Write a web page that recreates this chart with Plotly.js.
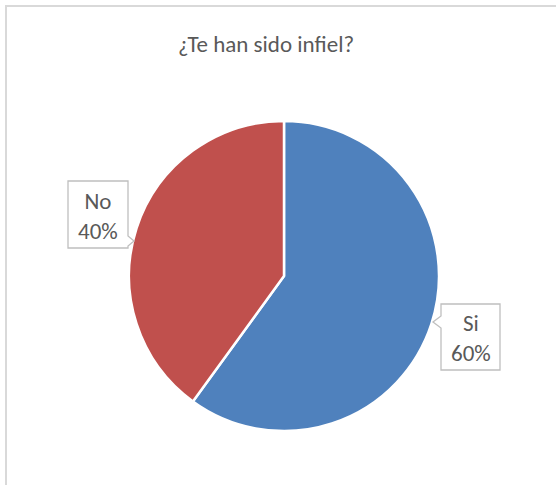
<!DOCTYPE html>
<html><head><meta charset="utf-8">
<script src="https://cdn.plot.ly/plotly-3.0.1.min.js"></script>
<style>html,body{margin:0;padding:0;background:#fff}#c{width:556px;height:485px}</style>
</head><body><div id="c"></div>
<script>
const labels = ["Si", "No"];
const values = [60, 40];
const colors = ["#4F81BD", "#C0504D"];
const titleText = "¿Te han sido infiel?";

const W = 556, H = 485;
const px = x => x / W, py = y => 1 - y / H;
const FONT = "Carlito, Calibri, 'Open Sans', sans-serif";
const total = values.reduce((a, b) => a + b, 0);
const pct = v => Math.round(v / total * 100) + "%";

// callout geometry (layout only)
const callouts = [
  {box: [441, 304, 500, 370], side: "left", tipY: 322, tipX: 433, half: 6, cx: 470.5, cy: 338},
  {box: [68, 181, 128, 248], side: "right", tipY: 241, tipX: 134, half: 5, cx: 98, cy: 216}
];

function path(c) {
  const [x0, y0, x1, y1] = c.box;
  let p;
  if (c.side === "left") {
    p = [[x0, y0], [x1, y0], [x1, y1], [x0, y1], [x0, c.tipY + c.half], [c.tipX, c.tipY], [x0, c.tipY - c.half]];
  } else {
    p = [[x0, y0], [x1, y0], [x1, c.tipY - c.half], [c.tipX, c.tipY], [x1, c.tipY + c.half], [x1, y1], [x0, y1]];
  }
  return "M" + p.map(q => px(q[0]).toFixed(5) + "," + py(q[1]).toFixed(5)).join(" L") + " Z";
}

const shapes = [
  {type: "rect", xref: "paper", yref: "paper", x0: px(6), x1: 1.05, y0: -0.05, y1: py(6),
   line: {color: "#D9D9D9", width: 2}, fillcolor: "rgba(0,0,0,0)", layer: "below"}
];
const annotations = [];
callouts.forEach((c, i) => {
  shapes.push({type: "path", xref: "paper", yref: "paper", path: path(c),
    line: {color: "#BFBFBF", width: 1.3}, fillcolor: "#FFFFFF", layer: "above"});
  annotations.push({xref: "paper", yref: "paper", x: px(c.cx), y: py(c.cy),
    xanchor: "center", yanchor: "middle", showarrow: false,
    text: labels[i] + "<br>" + pct(values[i]),
    font: {family: FONT, size: 23, color: "#595959"}});
});

const cx = 284, cy = 276, r = 155;
const data = [{
  type: "pie", labels: labels, values: values, sort: false, direction: "clockwise", rotation: 0,
  marker: {colors: colors, line: {color: "#FFFFFF", width: 2.5}},
  textinfo: "none", hoverinfo: "none", showlegend: false,
  domain: {x: [px(cx - r), px(cx + r)], y: [py(cy + r), py(cy - r)]}
}];

const layout = {
  width: W, height: H, margin: {l: 0, r: 0, t: 0, b: 0},
  paper_bgcolor: "#FFFFFF", plot_bgcolor: "#FFFFFF",
  title: {text: titleText, x: px(266), xanchor: "center", y: py(44), yanchor: "middle",
    font: {family: FONT, size: 23, color: "#595959"}},
  shapes: shapes, annotations: annotations, showlegend: false
};
Plotly.newPlot("c", data, layout, {staticPlot: true});
</script></body></html>
